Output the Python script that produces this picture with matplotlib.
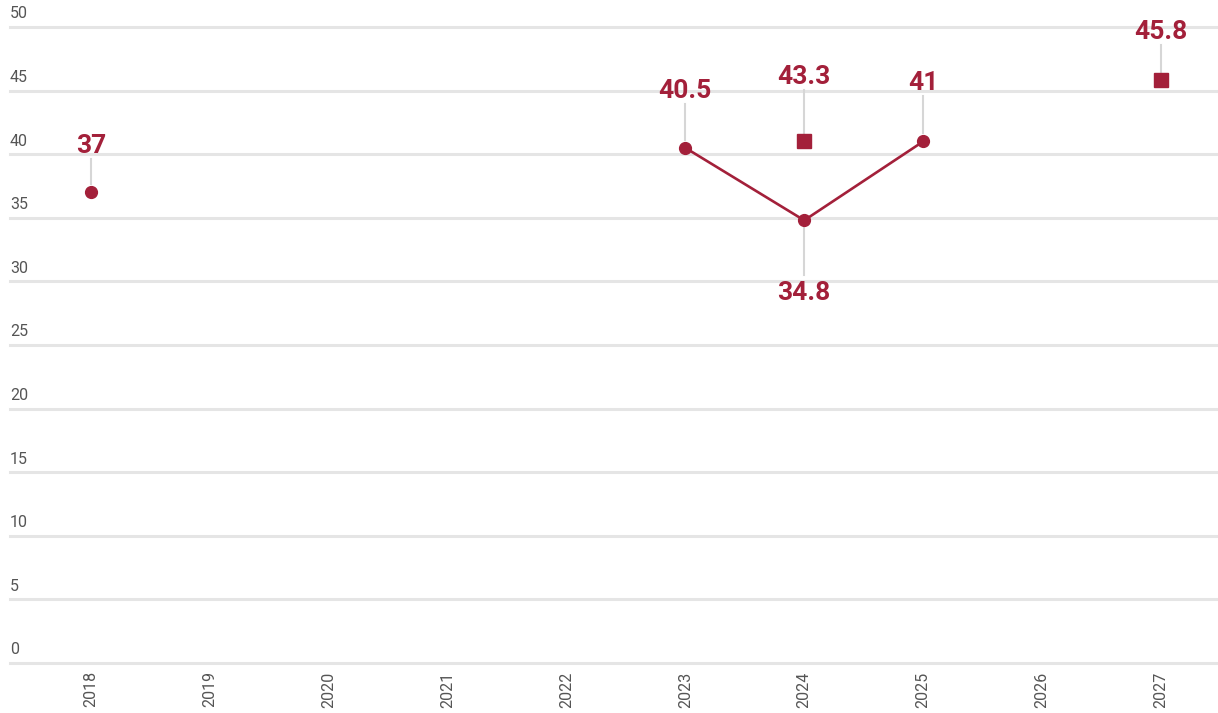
import numpy as np
import matplotlib.pyplot as plt

plt.rcParams['font.family'] = ['Roboto', 'DejaVu Sans']

# Data
years = [2018, 2019, 2020, 2021, 2022, 2023, 2024, 2025, 2026, 2027]
actual = [37, np.nan, np.nan, np.nan, np.nan, 40.5, 34.8, 41, np.nan, np.nan]
target_years = [2024, 2027]
target_values = [41.0, 45.8]
target_labels = ["43.3", "45.8"]

red = '#a3203a'
grid_c = '#e5e5e5'

fig = plt.figure(figsize=(12.18, 7.13), dpi=100)
ax = fig.add_axes([10 / 1218, 50 / 713, 1208 / 1218, 636 / 713])
ax.set_xlim(2017.32, 2027.48)
ax.set_ylim(0, 50)

# Gitter
for v in range(0, 51, 5):
    ax.axhline(v, color=grid_c, lw=2.2, zorder=0, clip_on=False)
    ax.annotate(str(v), (0, v), xycoords=('axes fraction', 'data'),
                xytext=(0, 4), textcoords='offset points',
                fontsize=11.5, color='#555555', ha='left', va='bottom')

for s in ax.spines.values():
    s.set_visible(False)
ax.set_yticks([])
ax.set_xticks(years)
ax.set_xticklabels([str(y) for y in years], rotation=90, fontsize=11.5, color='#555555')
ax.tick_params(axis='x', length=0, pad=6)

# Linie + Punkte
ax.plot(years, actual, color=red, lw=1.9, marker='o', ms=8.5, zorder=3, clip_on=False)
ax.plot(target_years, target_values, ls='none', color=red, marker='s', ms=9.5, zorder=3, clip_on=False)


def label(x, y, text, off, below=False):
    # off = Abstand in Pixel vom Punkt zur Textgrundlinie
    sign = -1 if below else 1
    p0 = ax.transData.transform((x, y))
    inv = ax.transData.inverted()
    a = inv.transform((p0[0], p0[1] + sign * 8))
    b = inv.transform((p0[0], p0[1] + sign * (off - 6)))
    ax.plot([a[0], b[0]], [a[1], b[1]], color='#d6d6d6', lw=1.5, zorder=1, clip_on=False)
    ax.annotate(text, (x, y), xytext=(0, sign * off * 0.72), textcoords='offset points',
                ha='center', va='top' if below else 'baseline',
                fontsize=19, fontweight='bold', color=red)


fig.canvas.draw()
pts = [(2018, 37, "37", 39, False),
       (2023, 40.5, "40.5", 50, False),
       (2024, 34.8, "34.8", 61, True),
       (2025, 41, "41", 51, False)]
for x, y, t, o, b in pts:
    label(x, y, t, o, b)
for x, y, t, o in zip(target_years, target_values, target_labels, [57, 41]):
    label(x, y, t, o)

fig.savefig('out.png', dpi=100)
